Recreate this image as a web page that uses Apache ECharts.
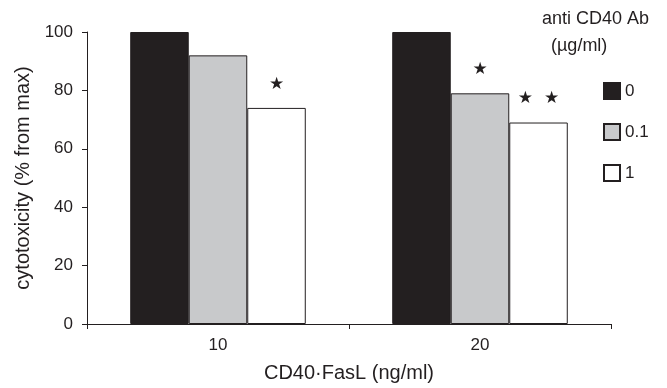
<!DOCTYPE html>
<html>
<head>
<meta charset="utf-8">
<script src="https://cdn.jsdelivr.net/npm/echarts@6/dist/echarts.min.js"></script>
<style>
  html, body { margin: 0; padding: 0; background: #fff; }
  #chart { width: 667px; height: 388px; }
</style>
</head>
<body>
<div id="chart"></div>
<script>
// CD40·FasL dose on the x axis
var categories = ['10', '20'];
// anti CD40 Ab concentrations (legend)
var doses = ['0', '0.1', '1'];
var values0 = [100, 100];
var values01 = [92, 79];
var values1 = [74, 69];
// significance marks above bars, per series then per category
var stars0 = ['', ''];
var stars01 = ['', '★'];
var stars1 = ['★', '★  ★'];
var yTicks = [0, 20, 40, 60, 80, 100];

var ink = '#231f20';
var font = 'Liberation Sans, Arial, sans-serif';

function barSeries(name, data, marks, fill) {
    return {
        name: name,
        type: 'bar',
        barGap: '0%',
        barCategoryGap: '33%',
        data: data,
        itemStyle: {
            color: fill,
            borderColor: ink,
            borderWidth: 1
        },
        label: {
            show: true,
            position: 'top',
            distance: 15,
            color: ink,
            fontSize: 17,
            fontFamily: 'DejaVu Sans',
            formatter: function (p) {
                return marks[p.dataIndex];
            }
        }
    };
}

var option = {
    animation: false,
    backgroundColor: '#fff',
    title: [
        {
            text: 'anti CD40 Ab',
            left: 542,
            top: 10,
            padding: 0,
            textStyle: { fontSize: 18, fontWeight: 'normal', color: ink, fontFamily: font }
        },
        {
            text: '(µg/ml)',
            left: 551,
            top: 37,
            padding: 0,
            textStyle: { fontSize: 18, fontWeight: 'normal', color: ink, fontFamily: font }
        }
    ],
    legend: {
        data: doses,
        orient: 'vertical',
        left: 603,
        top: 82,
        padding: 0,
        itemWidth: 16,
        itemHeight: 16,
        itemGap: 23,
        icon: 'rect',
        textStyle: { fontSize: 17, color: ink, fontFamily: font }
    },
    grid: {
        left: 87,
        right: 56,
        top: 32,
        bottom: 62
    },
    xAxis: {
        type: 'category',
        data: categories,
        name: 'CD40·FasL (ng/ml)',
        nameLocation: 'middle',
        nameGap: 39,
        nameTextStyle: { fontSize: 20, color: ink, fontFamily: font },
        axisLine: { lineStyle: { color: ink, width: 1 } },
        axisTick: { show: true, length: 5, lineStyle: { color: ink } },
        axisLabel: { fontSize: 17, color: ink, fontFamily: font, margin: 13 }
    },
    yAxis: {
        type: 'value',
        min: yTicks[0],
        max: yTicks[yTicks.length - 1],
        interval: yTicks[1] - yTicks[0],
        name: 'cytotoxicity (% from max)',
        nameLocation: 'middle',
        nameGap: 49,
        nameTextStyle: { fontSize: 20, color: ink, fontFamily: font },
        axisLine: { show: true, lineStyle: { color: ink, width: 1 } },
        axisTick: { show: true, length: 5, lineStyle: { color: ink } },
        axisLabel: { fontSize: 17, color: ink, fontFamily: font, margin: 14 },
        splitLine: { show: false }
    },
    series: [
        barSeries(doses[0], values0, stars0, ink),
        barSeries(doses[1], values01, stars01, '#c8c9cb'),
        barSeries(doses[2], values1, stars1, '#ffffff')
    ]
};

var chart = echarts.init(document.getElementById('chart'));
chart.setOption(option);
</script>
</body>
</html>
